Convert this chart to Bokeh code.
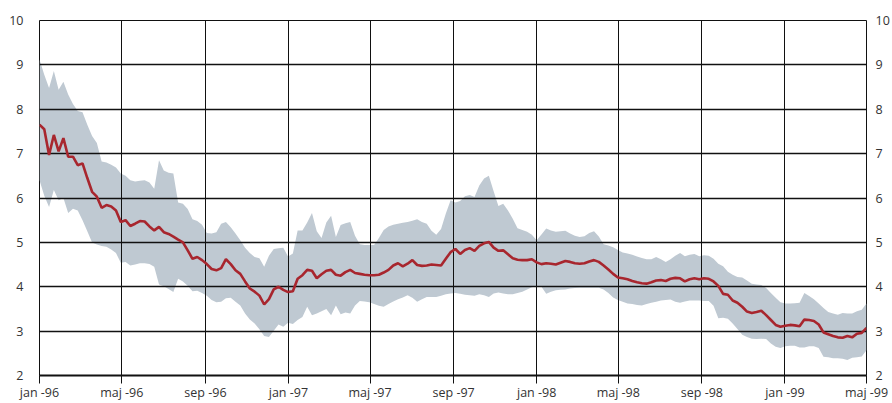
import pandas as pd
from bokeh.plotting import figure
from bokeh.models import FixedTicker, LinearAxis, ColumnDataSource
from bokeh.embed import file_html
from bokeh.resources import INLINE

# Axis ticks: every fourth month, Swedish month abbreviations
tick_dates = ["1996-01-01", "1996-05-01", "1996-09-01", "1997-01-01", "1997-05-01",
              "1997-09-01", "1998-01-01", "1998-05-01", "1998-09-01", "1999-01-01",
              "1999-05-01"]
tick_labels = ["jan -96", "maj -96", "sep -96", "jan -97", "maj -97", "sep -97",
               "jan -98", "maj -98", "sep -98", "jan -99", "maj -99"]
y_ticks = [2, 3, 4, 5, 6, 7, 8, 9, 10]

# Weekly observations, jan 1996 - maj 1999
rate = [
    7.65, 7.55, 6.97, 7.42, 7.05, 7.35, 6.93, 6.93, 6.74, 6.78,
    6.45, 6.14, 6.03, 5.78, 5.84, 5.81, 5.72, 5.46, 5.50, 5.37,
    5.42, 5.48, 5.47, 5.36, 5.27, 5.35, 5.23, 5.19, 5.13, 5.06,
    5.00, 4.82, 4.63, 4.67, 4.60, 4.51, 4.40, 4.37, 4.42, 4.62,
    4.51, 4.37, 4.29, 4.12, 3.96, 3.89, 3.80, 3.60, 3.72, 3.94,
    4.00, 3.93, 3.88, 3.90, 4.18, 4.26, 4.38, 4.36, 4.19, 4.28,
    4.36, 4.38, 4.27, 4.25, 4.33, 4.38, 4.31, 4.29, 4.27, 4.26,
    4.26, 4.27, 4.32, 4.38, 4.48, 4.53, 4.46, 4.52, 4.60, 4.49,
    4.47, 4.48, 4.50, 4.49, 4.48, 4.63, 4.78, 4.85, 4.74, 4.83,
    4.87, 4.81, 4.92, 4.98, 5.01, 4.88, 4.81, 4.82, 4.73, 4.64,
    4.61, 4.60, 4.60, 4.62, 4.55, 4.51, 4.53, 4.52, 4.50, 4.54,
    4.58, 4.56, 4.53, 4.52, 4.53, 4.57, 4.60, 4.56, 4.48, 4.39,
    4.29, 4.21, 4.19, 4.17, 4.13, 4.10, 4.08, 4.07, 4.10, 4.14,
    4.15, 4.13, 4.18, 4.20, 4.19, 4.12, 4.17, 4.19, 4.17, 4.19,
    4.18, 4.12, 4.02, 3.84, 3.82, 3.69, 3.64, 3.55, 3.44, 3.41,
    3.43, 3.46, 3.36, 3.25, 3.14, 3.10, 3.12, 3.14, 3.13, 3.11,
    3.26, 3.25, 3.23, 3.15, 2.97, 2.93, 2.89, 2.86, 2.85, 2.89,
    2.86, 2.94, 2.96, 3.07,
]

band_high = [
    9.12, 8.78, 8.48, 8.86, 8.44, 8.62, 8.33, 8.12, 7.96, 7.93,
    7.65, 7.40, 7.24, 6.82, 6.80, 6.75, 6.69, 6.55, 6.50, 6.40,
    6.37, 6.39, 6.40, 6.35, 6.21, 6.85, 6.62, 6.57, 6.55, 5.90,
    5.87, 5.75, 5.52, 5.48, 5.40, 5.21, 5.20, 5.23, 5.42, 5.46,
    5.34, 5.20, 5.05, 4.88, 4.76, 4.67, 4.64, 4.45, 4.70, 4.85,
    4.87, 4.88, 4.68, 4.75, 5.27, 5.27, 5.45, 5.66, 5.25, 5.10,
    5.45, 5.60, 5.12, 5.39, 5.43, 5.46, 5.15, 4.96, 4.94, 4.94,
    4.94, 5.10, 5.28, 5.36, 5.40, 5.42, 5.44, 5.46, 5.49, 5.52,
    5.46, 5.42, 5.26, 5.17, 5.30, 5.65, 5.95, 5.90, 5.93, 6.04,
    6.07, 6.02, 6.28, 6.44, 6.50, 6.15, 5.82, 5.87, 5.72, 5.53,
    5.32, 5.28, 5.24, 5.17, 5.05, 5.18, 5.31, 5.27, 5.24, 5.25,
    5.26, 5.20, 5.15, 5.12, 5.14, 5.21, 5.25, 5.13, 4.96, 4.93,
    4.89, 4.83, 4.77, 4.75, 4.72, 4.68, 4.65, 4.62, 4.62, 4.67,
    4.62, 4.56, 4.62, 4.70, 4.76, 4.69, 4.72, 4.74, 4.69, 4.71,
    4.70, 4.63, 4.52, 4.46, 4.34, 4.27, 4.22, 4.21, 4.14, 4.07,
    4.05, 4.04, 3.97, 3.86, 3.75, 3.65, 3.62, 3.62, 3.63, 3.64,
    3.86, 3.79, 3.72, 3.62, 3.52, 3.43, 3.40, 3.37, 3.41, 3.40,
    3.40, 3.45, 3.48, 3.62,
]

band_low = [
    6.40, 6.05, 5.80, 6.18, 5.95, 6.00, 5.66, 5.76, 5.72, 5.50,
    5.25, 5.00, 4.95, 4.92, 4.90, 4.84, 4.76, 4.54, 4.56, 4.48,
    4.50, 4.53, 4.53, 4.51, 4.45, 4.05, 4.01, 3.95, 3.88, 4.18,
    4.12, 4.02, 3.90, 3.91, 3.86, 3.80, 3.70, 3.65, 3.66, 3.74,
    3.75, 3.66, 3.58, 3.40, 3.26, 3.17, 3.04, 2.89, 2.87, 3.01,
    3.15, 3.10, 3.19, 3.16, 3.25, 3.32, 3.55, 3.36, 3.40, 3.45,
    3.50, 3.36, 3.58, 3.38, 3.42, 3.40, 3.58, 3.68, 3.67, 3.65,
    3.61, 3.57, 3.55, 3.61, 3.67, 3.72, 3.76, 3.81, 3.75, 3.66,
    3.72, 3.77, 3.77, 3.77, 3.80, 3.83, 3.85, 3.86, 3.84, 3.82,
    3.81, 3.80, 3.83, 3.81, 3.77, 3.85, 3.87, 3.85, 3.83, 3.83,
    3.86, 3.89, 3.94, 3.99, 4.01, 4.00, 3.84, 3.89, 3.92, 3.93,
    3.94, 3.96, 3.97, 3.98, 3.98, 3.98, 3.98, 3.98, 3.94, 3.86,
    3.76, 3.70, 3.66, 3.62, 3.61, 3.59, 3.58, 3.61, 3.64, 3.66,
    3.69, 3.70, 3.71, 3.66, 3.64, 3.67, 3.69, 3.69, 3.69, 3.68,
    3.68, 3.57, 3.29, 3.30, 3.28, 3.17, 3.05, 2.92, 2.87, 2.83,
    2.82, 2.83, 2.82, 2.72, 2.65, 2.62, 2.66, 2.67, 2.67, 2.63,
    2.63, 2.66, 2.66, 2.62, 2.42, 2.41, 2.39, 2.39, 2.38, 2.35,
    2.40, 2.41, 2.43, 2.57,
]

# Time axis expressed as days since 1 Jan 1996
origin = pd.Timestamp(tick_dates[0])
stop = pd.Timestamp(tick_dates[-1])
dates = pd.date_range(origin, stop, periods=len(rate))
day = list((dates - origin) / pd.Timedelta(days=1))
tick_days = [float((pd.Timestamp(d) - origin) / pd.Timedelta(days=1)) for d in tick_dates]

src = ColumnDataSource(data=dict(day=day, rate=rate, high=band_high, low=band_low))

FONT = "Open Sans"
TEXT_COLOR = "#333333"
GRID_COLOR = "#111111"

p = figure(width=892, height=403, x_range=(tick_days[0], tick_days[-1]), y_range=(2, 10),
           output_backend="svg", toolbar_location=None,
           min_border_left=39, min_border_right=26, min_border_top=20, min_border_bottom=28)
p.background_fill_color = "white"
p.border_fill_color = "white"
p.outline_line_color = GRID_COLOR
p.outline_line_width = 1

# Shaded interval sits beneath the grid; the central series is drawn on top of it
band = p.varea(x="day", y1="low", y2="high", source=src, fill_color="#bfc9d2")
band.level = "image"
p.line(x="day", y="rate", source=src, line_color="#a8262e", line_width=2.6)

xticker = FixedTicker(ticks=tick_days)
yticker = FixedTicker(ticks=y_ticks)

p.xaxis.ticker = xticker
p.xaxis.major_label_overrides = {t: lab for t, lab in zip(tick_days, tick_labels)}
p.xaxis.axis_line_color = GRID_COLOR
p.xaxis.axis_line_width = 2
p.xaxis.major_tick_out = 8
p.xaxis.major_tick_in = 0
p.xaxis.major_tick_line_color = GRID_COLOR
p.xaxis.minor_tick_line_color = None
p.xaxis.minor_tick_out = 0
p.xaxis.major_label_standoff = 0

p.yaxis.ticker = yticker
p.yaxis.axis_line_color = None
p.yaxis.major_tick_line_color = None
p.yaxis.minor_tick_line_color = None
p.yaxis.major_tick_out = 0
p.yaxis.minor_tick_out = 0
p.yaxis.major_label_standoff = 16

right = LinearAxis(ticker=yticker, axis_line_color=None, major_tick_line_color=None,
                   minor_tick_line_color=None, major_tick_out=0, minor_tick_out=0,
                   major_label_standoff=9)
p.add_layout(right, "right")

for ax in (p.xaxis[0], p.yaxis[0], right):
    ax.major_label_text_font = FONT
    ax.major_label_text_font_size = "12.5px"
    ax.major_label_text_color = TEXT_COLOR

p.xgrid.ticker = xticker
p.xgrid.grid_line_color = GRID_COLOR
p.xgrid.grid_line_width = 1
p.ygrid.ticker = yticker
p.ygrid.grid_line_color = GRID_COLOR
p.ygrid.grid_line_width = 1.3

open("out.html", "w").write(file_html(p, INLINE))
